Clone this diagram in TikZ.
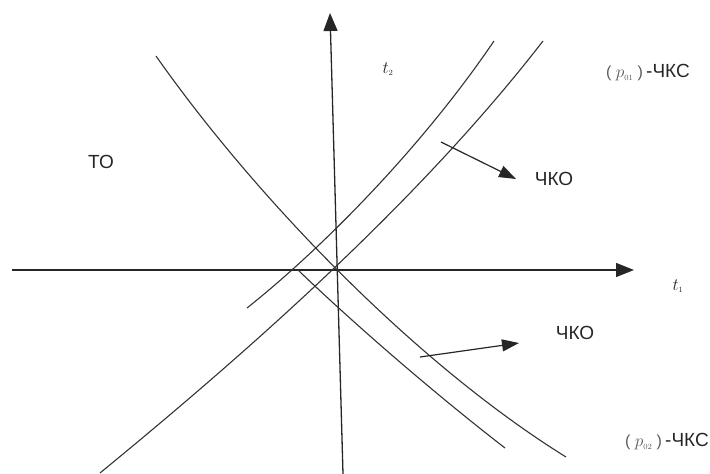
\documentclass[tikz,border=0pt]{standalone}
\usepackage{fontspec}
\setmainfont{Liberation Sans}
\usetikzlibrary{arrows.meta}
\tikzset{
  curve/.style={line width=1.1pt, draw=black!80},
  axis/.style={line width=1.3pt, draw=black!85, -{Triangle[length=18pt,width=14pt]}},
  pointer/.style={line width=1.2pt, draw=black!85, -{Triangle[length=17pt,width=12pt]}},
  lbl/.style={font=\fontsize{19}{21}\selectfont, text=black!85, inner sep=0pt},
  small/.style={font=\fontsize{16}{17}\selectfont, text=black!85, inner sep=0pt}
}
\begin{document}
\begin{tikzpicture}[x=1pt,y=-1pt]
\useasboundingbox (0,0) rectangle (710,474);
% axes
\coordinate (hx0) at (12,270);
\coordinate (hx1) at (634,270);
\coordinate (vy0) at (343,474);
\coordinate (vy1) at (330,13);
\draw[axis] (hx0) -- (hx1);
\draw[axis] (vy0) -- (vy1);
% curves
\coordinate (a0) at (100,473); \coordinate (a1) at (543,41);
\draw[curve] (a0) .. controls (250,350) and (420,200) .. (a1);
\coordinate (b0) at (247,308); \coordinate (b1) at (494,41);
\draw[curve] (b0) .. controls (320,250) and (420,150) .. (b1);
\coordinate (c0) at (156,56); \coordinate (c1) at (566,457);
\draw[curve] (c0) .. controls (250,190) and (410,360) .. (c1);
\coordinate (d0) at (298,270); \coordinate (d1) at (505,448);
\draw[curve] (d0) .. controls (350,320) and (430,390) .. (d1);
% labels
\node[small] (t2) at (388,69) {$t_{\scriptscriptstyle 2}$};
\node[small] (t1) at (678,286) {$t_{\scriptscriptstyle 1}$};
\node[lbl] (to) at (101,162) {ТО};
\node[lbl] (cko1) at (554,179) {ЧКО};
\node[lbl] (cko2) at (575,333) {ЧКО};
\node[lbl, anchor=east] (cks1) at (690,73) {{\color{black!65}\fontsize{16}{17}\selectfont( $p_{\scriptscriptstyle 01}$ )}\,-ЧКС};
\node[lbl, anchor=east] (cks2) at (709,442) {{\color{black!65}\fontsize{16}{17}\selectfont( $p_{\scriptscriptstyle 02}$ )}\,-ЧКС};
% pointers
\coordinate (p1s) at (441,142); \coordinate (p1e) at (516,179);
\draw[pointer] (p1s) -- (p1e);
\coordinate (p2s) at (420,357); \coordinate (p2e) at (519,343);
\draw[pointer] (p2s) -- (p2e);
\end{tikzpicture}
\end{document}
